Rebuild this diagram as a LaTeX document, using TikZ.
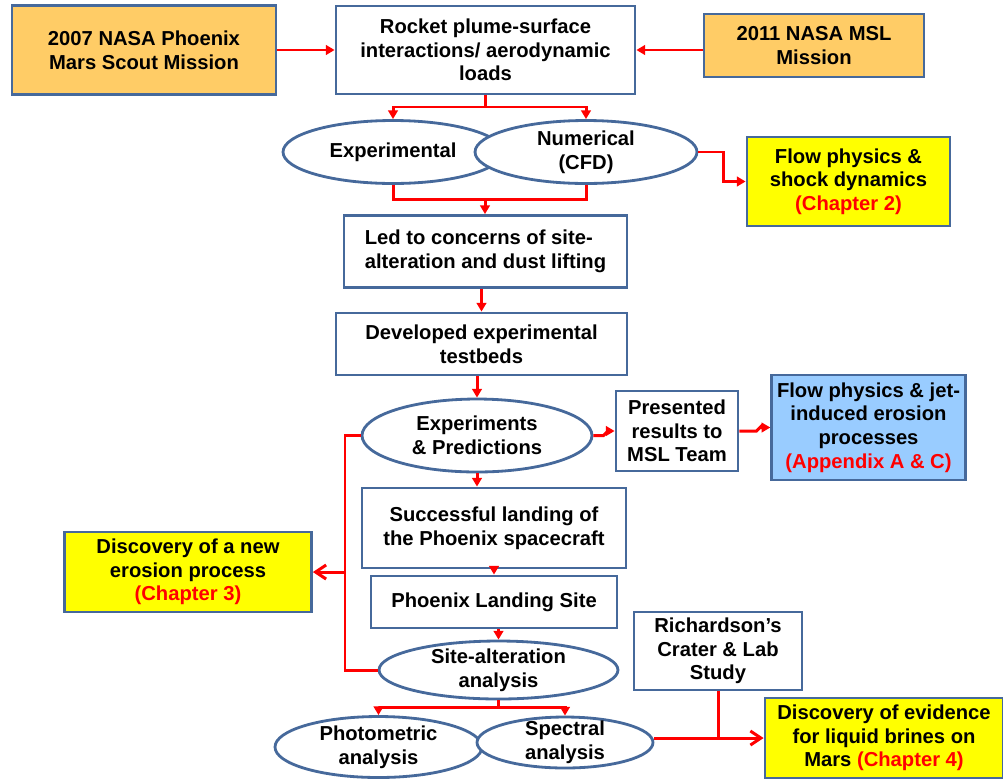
\documentclass[tikz,border=0pt]{standalone}
\usepackage{fontspec}
\setmainfont{Liberation Sans}
\usepackage{xcolor}
\usetikzlibrary{calc}
\usetikzlibrary{positioning}
\usetikzlibrary{shapes.geometric}
\usetikzlibrary{arrows.meta}
\definecolor{frameblue}{RGB}{70,105,155}
\definecolor{missionorange}{RGB}{255,204,102}
\definecolor{chapteryellow}{RGB}{255,255,0}
\definecolor{appendixblue}{RGB}{153,204,255}
\newcommand{\chap}[1]{\textcolor{red}{#1}}

\begin{document}
\begin{tikzpicture}[x=0.02cm, y=-0.02cm]

                \tikzset{
                    txt/.style={font=\fontsize{11.5}{13.5}\selectfont\bfseries, align=center},
                    box/.style={txt, draw=frameblue, line width=1.6pt, fill=white, inner sep=3pt},
                    oval/.style={txt, ellipse, draw=frameblue, line width=1.6pt, fill=white,
                        inner xsep=-20pt, inner ysep=-6pt},
                    flow/.style={red, line width=1.7pt},
                    arr/.style={flow, -{Triangle[length=5pt,width=5.5pt]}},
                    openarr/.style={flow, -{Straight Barb[length=6pt,width=8pt]}}
                }

                \useasboundingbox (0,0) rectangle (1003,778);

                % Missions and the plume problem
                \node (phx) [box, fill=missionorange, minimum width=5.28cm, minimum height=1.78cm]
                at (144,50) {2007 NASA Phoenix\\Mars Scout Mission};
                \node (rocket) [box, minimum width=5.98cm, minimum height=1.76cm]
                at (485.5,50) {Rocket plume-surface\\interactions/ aerodynamic\\loads};
                \node (msl) [box, fill=missionorange, minimum width=4.4cm, minimum height=1.26cm]
                at (814,45.5) {2011 NASA MSL\\Mission};

                % Experimental and numerical work
                \node (expt) [oval, minimum width=4.4cm, minimum height=1.26cm]
                at (393,152) {Experimental};
                \node (numr) [oval, minimum width=4.44cm, minimum height=1.26cm]
                at (586,152) {Numerical\\(CFD)};
                \node (flowa) [box, fill=chapteryellow, minimum width=4.06cm, minimum height=1.78cm]
                at (848.5,181.5) {Flow physics \&\\shock dynamics\\\chap{(Chapter 2)}};
                \node (led) [box, align=left, minimum width=5.66cm, minimum height=1.44cm]
                at (485.5,251.5) {Led to concerns of site-\\alteration and dust lifting};
                \node (dev) [box, minimum width=5.82cm, minimum height=1.24cm]
                at (481.5,344) {Developed experimental\\testbeds};
                \node (expr) [oval, minimum width=4.6cm, minimum height=1.46cm]
                at (477,435.5) {Experiments\\\& Predictions};
                \node (pres) [box, minimum width=2.44cm, minimum height=1.6cm]
                at (677,431) {Presented\\results to\\MSL Team};
                \node (flowb) [box, fill=appendixblue, minimum width=3.74cm, minimum height=2.1cm]
                at (868.5,427.5) {Flow physics \& jet-\\induced erosion\\processes\\\chap{(Appendix A \& C)}};

                % Landing and site analysis
                \node (succ) [box, minimum width=5.28cm, minimum height=1.6cm]
                at (494,528) {Successful landing of\\the Phoenix spacecraft};
                \node (land) [box, minimum width=4.92cm, minimum height=1.04cm]
                at (494,602) {Phoenix Landing Site};
                \node (site) [oval, minimum width=4.78cm, minimum height=1.16cm]
                at (498.5,670) {Site-alteration\\analysis};
                \node (disc) [box, fill=chapteryellow, minimum width=4.94cm, minimum height=1.6cm]
                at (188,572) {Discovery of a new\\erosion process\\\chap{(Chapter 3)}};
                \node (photo) [oval, minimum width=4.14cm, minimum height=1.22cm]
                at (378.5,747) {Photometric\\analysis};
                \node (spec) [oval, minimum width=3.52cm, minimum height=1.02cm]
                at (565,742.5) {Spectral\\analysis};
                \node (rich) [box, minimum width=3.36cm, minimum height=1.56cm]
                at (718,651) {Richardson's\\Crater \& Lab\\Study};
                \node (brine) [box, fill=chapteryellow, minimum width=4.76cm, minimum height=1.6cm]
                at (884,738) {Discovery of evidence\\for liquid brines on\\Mars \chap{(Chapter 4)}};

                \coordinate (fork) at (485.5,107);
                \coordinate (join) at (485,199);
                \coordinate (loop) at (345,572);
                \coordinate (split) at (498.5,707);

                \begin{scope}
                    \draw[arr] (phx.east) -- (phx.east -| rocket.west);
                    \draw[arr] (msl.west |- rocket) -- (rocket.east);
                    \draw[flow] (rocket.south) -- (fork);
                    \draw[arr] (fork) -| (expt.north);
                    \draw[arr] (fork) -| (numr.north);
                    \draw[flow] (expt.south) |- (join);
                    \draw[flow] (numr.south) |- (join);
                    \draw[arr] (join) -- (join |- led.north);
                    \draw[arr] (numr.east) -- ++(25,0) |- (flowa.west);
                    \draw[arr] (dev.north |- led.south) -- (dev.north);
                    \draw[arr] (expr.north |- dev.south) -- (expr.north);
                    \draw[arr] (expr.east) -- ++(10,0) -- ++(4,-4) |- (pres.west);
                    \draw[arr] (pres.east) -- ++(17,0) -- ++(4,-4) |- (flowb.west);
                    \draw[arr] (expr.south) -- (expr.south |- succ.north);
                    \draw[arr] (succ.south) -- (land.north);
                    \draw[arr] (site.north |- land.south) -- (site.north);
                    \draw[flow] (expr.west) -| (loop) |- (site.west);
                    \draw[openarr] (loop) -- (disc.east);
                    \draw[flow] (site.south) -- (split);
                    \draw[arr] (split) -| (photo.north);
                    \draw[arr] (split) -| (spec.north);
                    \draw[flow] (rich.south) -- (rich.south |- brine.west);
                    \draw[openarr] (spec.east |- brine.west) -- (brine.west);
                \end{scope}

\end{tikzpicture}
\end{document}
